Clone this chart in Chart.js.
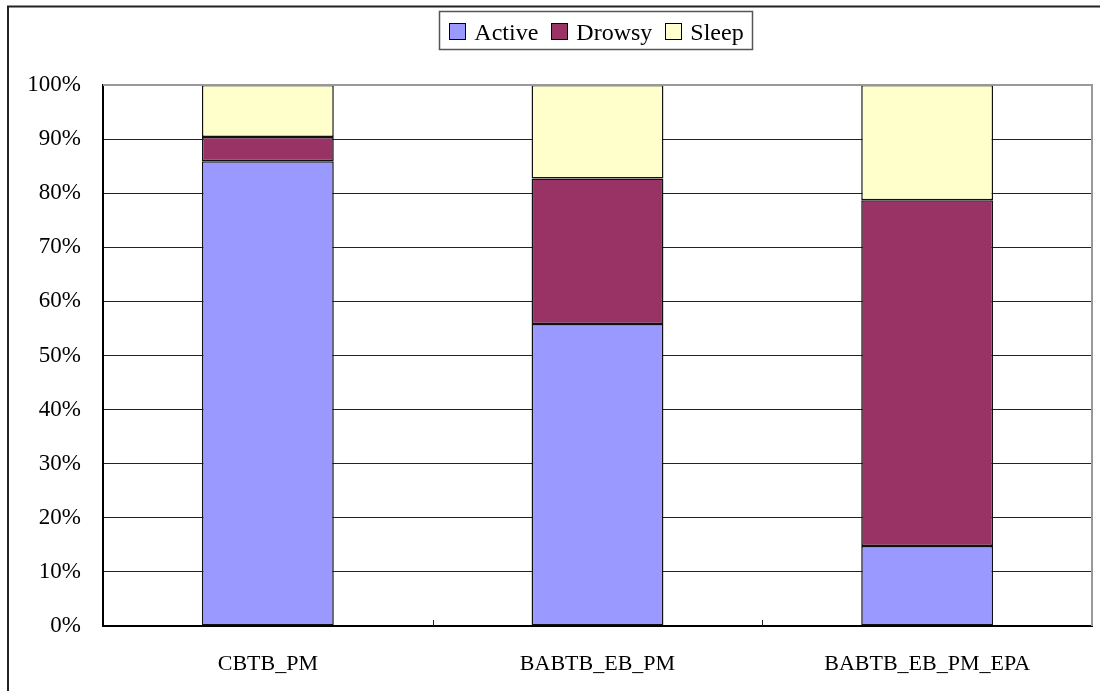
<!DOCTYPE html>
<html>
<head>
<meta charset="utf-8">
<style>
  html, body { margin: 0; padding: 0; background: #fff; }
  #wrap { width: 1100px; height: 691px; }
</style>
<script src="https://cdn.jsdelivr.net/npm/chart.js@4/dist/chart.umd.min.js"></script>
</head>
<body>
<div id="wrap"><canvas id="c" width="1100" height="691"></canvas></div>
<script>
// Share of time in each state, per configuration (percent)
const categories = ['CBTB_PM', 'BABTB_EB_PM', 'BABTB_EB_PM_EPA'];
const active = [85.9, 55.8, 14.8];
const drowsy = [4.5, 26.9, 63.9];
const sleep = [9.6, 17.3, 21.3];
const yTicks = [0, 10, 20, 30, 40, 50, 60, 70, 80, 90, 100];

const SERIF = '"Liberation Serif", "Times New Roman", serif';

// White page, outer frame, plot border and category tick marks
const framePlugin = {
  id: 'frame',
  beforeDraw(chart) {
    const ctx = chart.ctx;
    ctx.save();
    ctx.fillStyle = '#fff';
    ctx.fillRect(0, 0, chart.width, chart.height);
    ctx.strokeStyle = '#222';
    ctx.lineWidth = 2;
    ctx.beginPath();
    ctx.moveTo(8, chart.height + 2);
    ctx.lineTo(8, 6.5);
    ctx.lineTo(chart.width + 2, 6.5);
    ctx.stroke();
    ctx.restore();
  },
  afterDraw(chart) {
    const ctx = chart.ctx;
    const a = chart.chartArea;
    const x = chart.scales.x;
    ctx.save();
    // top and right edge of the plot
    ctx.strokeStyle = '#999';
    ctx.lineWidth = 2;
    ctx.beginPath();
    ctx.moveTo(a.left, a.top);
    ctx.lineTo(a.right, a.top);
    ctx.lineTo(a.right, a.bottom);
    ctx.stroke();
    // tick marks between categories
    ctx.strokeStyle = '#222';
    ctx.lineWidth = 1;
    ctx.beginPath();
    for (let i = 0; i < categories.length - 1; i++) {
      const px = Math.round((x.getPixelForValue(i) + x.getPixelForValue(i + 1)) / 2) + 0.5;
      ctx.moveTo(px, a.bottom - 6);
      ctx.lineTo(px, a.bottom);
    }
    ctx.stroke();
    ctx.restore();
  }
};

// Boxed legend row drawn from the dataset labels and colours
const boxLegendPlugin = {
  id: 'boxLegend',
  afterDraw(chart) {
    const ctx = chart.ctx;
    const sets = chart.data.datasets;
    const sq = 16, gapText = 9, gapItem = 13, pad = 8;
    ctx.save();
    ctx.font = '24px ' + SERIF;
    const widths = sets.map(d => ctx.measureText(d.label).width);
    let total = 0;
    widths.forEach((w, i) => { total += sq + gapText + w + (i < widths.length - 1 ? gapItem : 0); });
    const cx = (chart.chartArea.left + chart.chartArea.right) / 2 - 1;
    let x = cx - total / 2;
    const boxTop = 11, boxBottom = 49;
    ctx.strokeStyle = '#555';
    ctx.lineWidth = 1.5;
    ctx.strokeRect(Math.round(x - pad) - 1.5, boxTop + 0.5, Math.round(total + pad * 2) + 3, boxBottom - boxTop);
    ctx.textBaseline = 'alphabetic';
    ctx.textAlign = 'left';
    sets.forEach((d, i) => {
      ctx.fillStyle = d.backgroundColor;
      ctx.fillRect(Math.round(x), 23, sq, sq);
      ctx.strokeStyle = '#000';
      ctx.lineWidth = 1;
      ctx.strokeRect(Math.round(x) + 0.5, 23.5, sq, sq);
      ctx.fillStyle = '#000';
      ctx.fillText(d.label, x + sq + gapText, 39.5);
      x += sq + gapText + widths[i] + gapItem;
    });
    ctx.restore();
  }
};

const ds = (label, data, color) => ({
  label, data,
  backgroundColor: color,
  borderColor: '#111',
  borderWidth: 1.5,
  borderSkipped: false,
  barPercentage: 0.4,
  categoryPercentage: 1.0
});

new Chart(document.getElementById('c'), {
  type: 'bar',
  data: {
    labels: categories,
    datasets: [
      ds('Active', active, '#9999FF'),
      ds('Drowsy', drowsy, '#993366'),
      ds('Sleep', sleep, '#FFFFCC')
    ]
  },
  options: {
    responsive: false,
    animation: false,
    devicePixelRatio: 1,
    layout: { padding: { left: 8, right: 8, top: 85, bottom: 0 } },
    plugins: {
      legend: { display: false },
      tooltip: { enabled: false }
    },
    scales: {
      x: {
        stacked: true,
        grid: { display: false, drawTicks: false },
        border: { color: '#000', width: 2 },
        ticks: { color: '#000', font: { family: SERIF, size: 22 }, padding: 25, maxRotation: 0 },
        afterFit(s) { s.height = 65; }
      },
      y: {
        stacked: true,
        min: 0,
        max: 100,
        afterBuildTicks(s) { s.ticks = yTicks.map(v => ({ value: v })); },
        grid: { color: '#222', lineWidth: 1, drawTicks: false },
        border: { color: '#000', width: 2 },
        ticks: {
          color: '#000',
          font: { family: SERIF, size: 23 },
          padding: 22,
          callback: v => v + '%'
        },
        afterFit(s) { s.width = 95; }
      }
    }
  },
  plugins: [framePlugin, boxLegendPlugin]
});
</script>
</body>
</html>
